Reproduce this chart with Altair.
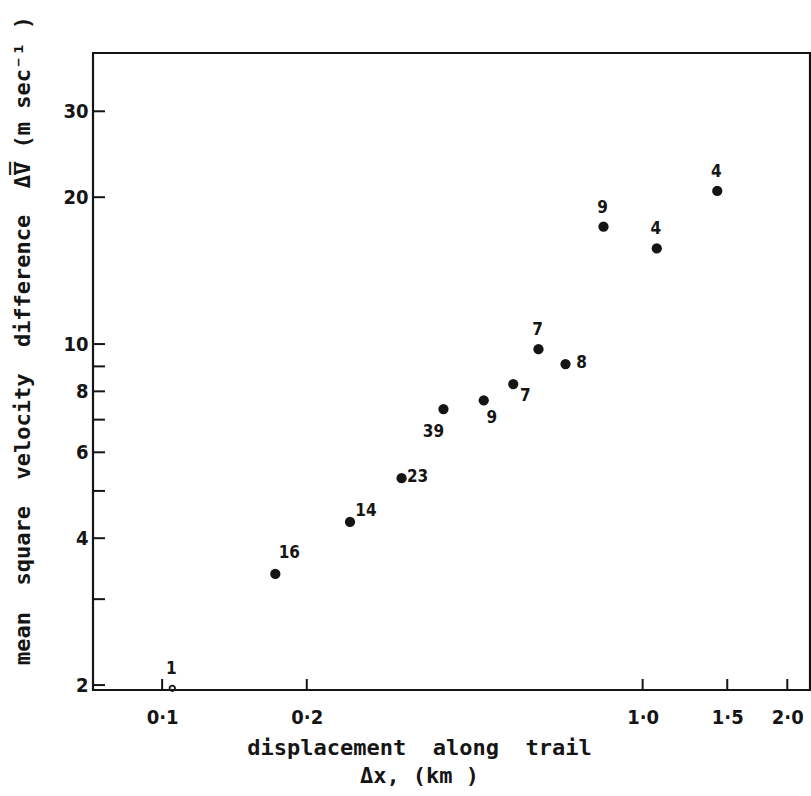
import altair as alt
import pandas as pd

# Mean square velocity difference against displacement along the trail
dx_km = [0.105, 0.172, 0.246, 0.315, 0.385, 0.467, 0.538, 0.607, 0.691, 0.829, 1.07, 1.43]
dv = [1.97, 3.38, 4.32, 5.31, 7.36, 7.67, 8.28, 9.76, 9.10, 17.4, 15.7, 20.6]
counts = [1, 16, 14, 23, 39, 9, 7, 7, 8, 9, 4, 4]
label_side = ["n", "nne", "ene", "e", "ssw", "sse", "se", "n", "e", "n", "n", "n"]

x_ticks = [0.1, 0.2, 1.0, 1.5, 2.0]
y_labels = [2, 4, 6, 8, 10, 20, 30]
y_ticks = [2, 3, 4, 5, 6, 7, 8, 9, 10, 20, 30]

X_DOMAIN = [0.0718, 2.23]
Y_DOMAIN = [1.954, 39.5]
FONT = "DejaVu Sans Condensed"
TITLE_FONT = "DejaVu Sans Mono"
INK = "#151515"
GAP = "\u00a0" * 2  # wide word spacing in the axis titles

df = pd.DataFrame({"dx": dx_km, "dv": dv, "n": [str(c) for c in counts], "side": label_side})
df["hollow"] = df["n"] == "1"

xs = alt.Scale(type="log", domain=X_DOMAIN, nice=False)
ys = alt.Scale(type="log", domain=Y_DOMAIN, nice=False)

x_axis = alt.Axis(
    values=x_ticks,
    labelExpr="replace(format(datum.value, '.1f'), '.', '·')",
    ticks=False, domain=False, grid=False,
    labelPadding=17, labelFontSize=20,
    title=[f"displacement{GAP}along{GAP}trail", "Δx,\u00a0(km\u00a0)"],
    titleFontSize=22, titlePadding=10, titleX=326, titleLineHeight=28,
)
y_axis = alt.Axis(
    values=y_labels, format="d",
    ticks=False, domain=False, grid=False,
    labelPadding=5, labelFontSize=20,
    title=f"mean{GAP}square{GAP}velocity{GAP}difference{GAP}Δ\u0305V\u0305\u00a0(m\u00a0sec⁻¹\u00a0)",
    titleFontSize=22, titleAngle=270, titleX=-71, titleY=287,
    titleAlign="center", titleBaseline="middle",
)

base = alt.Chart(df)

points = base.transform_filter("!datum.hollow").mark_circle(
    size=105, color=INK, opacity=1
).encode(
    x=alt.X("dx:Q", scale=xs, axis=x_axis),
    y=alt.Y("dv:Q", scale=ys, axis=y_axis),
)

hollow = base.transform_filter("datum.hollow").mark_point(
    size=30, color=INK, strokeWidth=1.8, filled=False, opacity=1
).encode(x=alt.X("dx:Q", scale=xs), y=alt.Y("dv:Q", scale=ys))

offsets = {
    "n": (-1, -19), "nne": (14, -21), "ene": (16, -11), "e": (16, -1),
    "ssw": (-10, 23), "sse": (8, 18), "se": (12, 12),
}
labels = [
    base.transform_filter(f"datum.side == '{side}'").mark_text(
        dx=ox, dy=oy, font=FONT, fontWeight="bold", fontSize=17, color=INK,
        align="center", baseline="middle",
    ).encode(x=alt.X("dx:Q", scale=xs), y=alt.Y("dv:Q", scale=ys), text="n:N")
    for side, (ox, oy) in offsets.items()
]

# inward-pointing ticks on the left and bottom frame
ytick_df = pd.DataFrame({"v": y_ticks})
xtick_df = pd.DataFrame({"v": x_ticks})
ytick_rules = alt.Chart(ytick_df).mark_rule(color=INK, strokeWidth=2).encode(
    y=alt.Y("v:Q", scale=ys), x=alt.value(0), x2=alt.value(12)
)
xtick_rules = alt.Chart(xtick_df).mark_rule(color=INK, strokeWidth=2).encode(
    x=alt.X("v:Q", scale=xs), y=alt.value(637), y2=alt.value(626)
)

chart = alt.layer(points, hollow, ytick_rules, xtick_rules, *labels).properties(
    width=717, height=637,
    autosize=alt.AutoSizeParams(type="none"),
    padding={"left": 93, "top": 53, "right": 1, "bottom": 106},
    background="white",
).configure_view(
    stroke=INK, strokeWidth=2.2
).configure_axis(
    labelFont=FONT, titleFont=TITLE_FONT, labelFontWeight="bold", titleFontWeight="bold",
    labelColor=INK, titleColor=INK,
)

chart.save("out.html", embed_options={"renderer": "svg", "actions": False})
